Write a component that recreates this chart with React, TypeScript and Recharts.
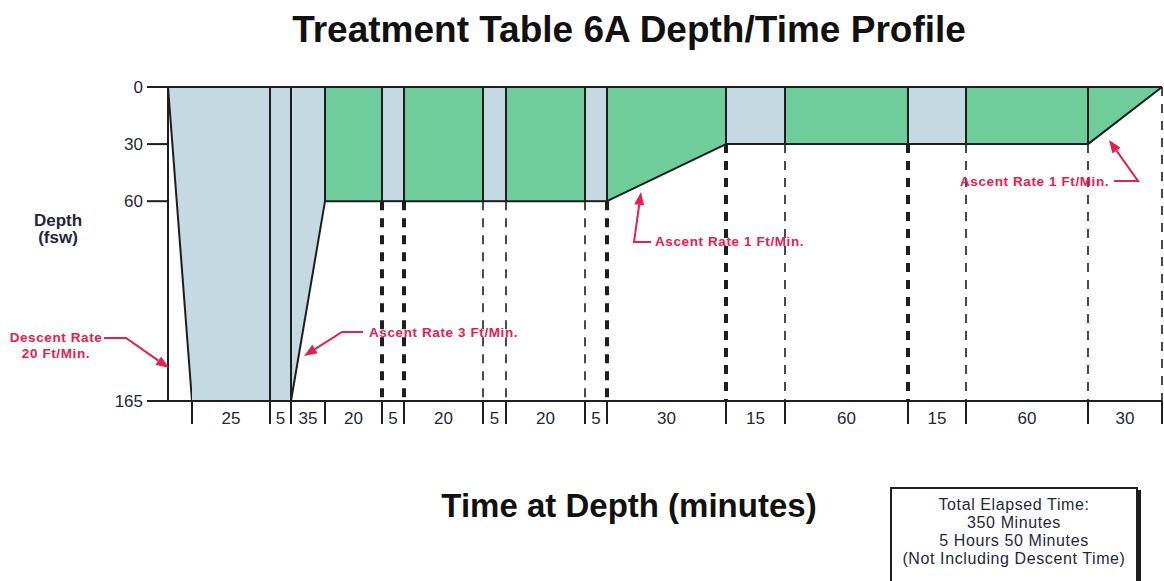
import React from 'react';
import { ComposedChart, Area, XAxis, YAxis, ReferenceLine } from 'recharts';

// Treatment Table 6A, descent first. The time axis is drawn not to scale,
// so every segment also has its drawn span (axis units).
const segmentMinutes = [8.25, 25, 5, 35, 20, 5, 20, 5, 20, 5, 30, 15, 60, 15, 60, 30];
const segmentGas = ['air', 'air', 'air', 'air', 'o2', 'air', 'o2', 'air', 'o2', 'air', 'o2', 'air', 'o2', 'air', 'o2', 'o2'];
const segmentSpan = [24, 78, 21, 34, 57, 22, 79, 23, 79, 22, 119, 59, 123, 58, 122, 74];
const boundaryDepth = [0, 165, 165, 165, 60, 60, 60, 60, 60, 60, 60, 30, 30, 30, 30, 30, 0];
const depthTicks = [0, 30, 60, 165];
const heavyDrops = [5, 6, 10, 11, 13]; // boundaries with the heavy dashed drop line

const INK = '#1e1e1e';
const RED = '#e4204f';
const gasFill: { [k: string]: string } = { air: '#c4d9e1', o2: '#6ecd9b' };

const boundaryX: number[] = [0];
segmentSpan.forEach((s) => boundaryX.push(boundaryX[boundaryX.length - 1] + s));
const totalSpan = boundaryX[boundaryX.length - 1];

// one column per segment so every segment gets its own filled area
const rows = boundaryX.map((t, i) => {
  const r: any = { t };
  segmentSpan.forEach((_, j) => {
    r['s' + j] = i === j || i === j + 1 ? boundaryDepth[i] : null;
  });
  return r;
});

const midLabels = new Map<number, string>();
segmentMinutes.forEach((m, j) => {
  if (j > 0) midLabels.set((boundaryX[j] + boundaryX[j + 1]) / 2, String(m));
});
const timeTicks = [...boundaryX.slice(1), ...Array.from(midLabels.keys())].sort((a, b) => a - b);

const TimeTick = (props: any) => {
  const { x, y, payload } = props;
  const label = midLabels.get(payload.value);
  if (label !== undefined) {
    return (
      <text x={x} y={y + 17} textAnchor="middle" dominantBaseline="central" fontSize={17} fill="#1f2740">
        {label}
      </text>
    );
  }
  return <line x1={x} y1={y} x2={x} y2={y + 23} stroke={INK} strokeWidth={2} />;
};

const Arrow = ({ pts }: { pts: number[][] }) => {
  const [x1, y1] = pts[pts.length - 2];
  const [x2, y2] = pts[pts.length - 1];
  const a = Math.atan2(y2 - y1, x2 - x1);
  const L = 13;
  const W = 5;
  const bx = x2 - L * Math.cos(a);
  const by = y2 - L * Math.sin(a);
  const line = [...pts.slice(0, -1), [bx, by]].map((p) => p.join(',')).join(' ');
  const head = [
    [x2, y2],
    [bx + W * Math.sin(a), by - W * Math.cos(a)],
    [bx - W * Math.sin(a), by + W * Math.cos(a)],
  ]
    .map((p) => p.join(','))
    .join(' ');
  return (
    <g>
      <polyline points={line} fill="none" stroke={RED} strokeWidth={2} />
      <polygon points={head} fill={RED} />
    </g>
  );
};

const note = { fill: RED, fontSize: 13.5, fontWeight: 700, letterSpacing: 0.6 } as const;

const App: React.FC = () => {
  return (
    <div
      style={{
        position: 'absolute',
        left: 0,
        top: 0,
        width: 1164,
        height: 581,
        overflow: 'hidden',
        background: '#fff',
        fontFamily: "'Liberation Sans', Arial, sans-serif",
      }}
    >
      <ComposedChart
        width={1164}
        height={581}
        data={rows}
        margin={{ top: 87, right: 2, bottom: 150, left: 108 }}
      >
        <XAxis
          dataKey="t"
          type="number"
          domain={[0, totalSpan]}
          allowDataOverflow
          ticks={timeTicks}
          interval={0}
          tick={(p: any) => <TimeTick {...p} />}
          tickLine={false}
          tickSize={0}
          tickMargin={0}
          axisLine={{ stroke: INK, strokeWidth: 2 }}
          height={30}
        />
        <YAxis
          type="number"
          domain={[0, 165]}
          reversed
          ticks={depthTicks}
          interval={0}
          width={60}
          tickSize={21}
          tickMargin={4}
          tickLine={{ stroke: INK, strokeWidth: 2 }}
          axisLine={{ stroke: INK, strokeWidth: 2 }}
          tick={{ fill: '#1f2740', fontSize: 17 }}
        />
        {segmentSpan.map((_, j) => (
          <Area
            key={'s' + j}
            type="linear"
            dataKey={'s' + j}
            fill={gasFill[segmentGas[j]]}
            fillOpacity={1}
            stroke={INK}
            strokeWidth={2}
            dot={false}
            activeDot={false}
            connectNulls={false}
            isAnimationActive={false}
          />
        ))}
        <ReferenceLine y={0} stroke={INK} strokeWidth={2} />
        {boundaryX.map((t, i) =>
          i >= 2 && boundaryDepth[i] > 0 ? (
            <ReferenceLine
              key={'v' + i}
              segment={[
                { x: t, y: 0 },
                { x: t, y: boundaryDepth[i] },
              ]}
              stroke={INK}
              strokeWidth={2}
            />
          ) : null
        )}
        {boundaryX.map((t, i) =>
          i >= 5 ? (
            <ReferenceLine
              key={'d' + i}
              segment={[
                { x: t, y: boundaryDepth[i] },
                { x: t, y: 165 },
              ]}
              stroke={INK}
              strokeWidth={heavyDrops.includes(i) ? 4 : 1.6}
              strokeDasharray="9 8"
            />
          ) : null
        )}
      </ComposedChart>

      <svg
        width={1164}
        height={581}
        style={{ position: 'absolute', left: 0, top: 0, pointerEvents: 'none' }}
      >
        <text x={629} y={42} textAnchor="middle" fontSize={37} fontWeight={700} fill="#111">
          Treatment Table 6A Depth/Time Profile
        </text>
        <text x={629} y={517} textAnchor="middle" fontSize={33} fontWeight={700} fill="#111">
          Time at Depth (minutes)
        </text>
        <text x={58} y={226} textAnchor="middle" fontSize={17} fontWeight={700} fill="#1f2740">
          Depth
        </text>
        <text x={58} y={243} textAnchor="middle" fontSize={17} fontWeight={700} fill="#1f2740">
          (fsw)
        </text>

        <text x={56} y={342} textAnchor="middle" {...note}>Descent Rate</text>
        <text x={56} y={358} textAnchor="middle" {...note}>20 Ft/Min.</text>
        <Arrow pts={[[104, 338], [126, 338], [169, 368]]} />

        <text x={369} y={337} {...note}>Ascent Rate 3 Ft/Min.</text>
        <Arrow pts={[[363, 332], [342, 332], [304, 356]]} />

        <text x={655} y={246} {...note}>Ascent Rate 1 Ft/Min.</text>
        <Arrow pts={[[651, 242], [634, 242], [641, 192]]} />

        <text x={960} y={186} {...note}>Ascent Rate 1 Ft/Min.</text>
        <Arrow pts={[[1114, 181], [1138, 181], [1109, 140]]} />
      </svg>

      <div
        style={{
          position: 'absolute',
          left: 890,
          top: 487,
          width: 248,
          height: 120,
          border: `2px solid ${INK}`,
          boxShadow: `3px 3px 0 ${INK}`,
          boxSizing: 'border-box',
          paddingTop: 7,
          textAlign: 'center',
          fontSize: 16,
          lineHeight: '18px',
          letterSpacing: 0.6,
          color: '#1f2740',
        }}
      >
        Total Elapsed Time:
        <br />
        350 Minutes
        <br />
        5 Hours 50 Minutes
        <br />
        (Not Including Descent Time)
      </div>
    </div>
  );
};

export default App;
